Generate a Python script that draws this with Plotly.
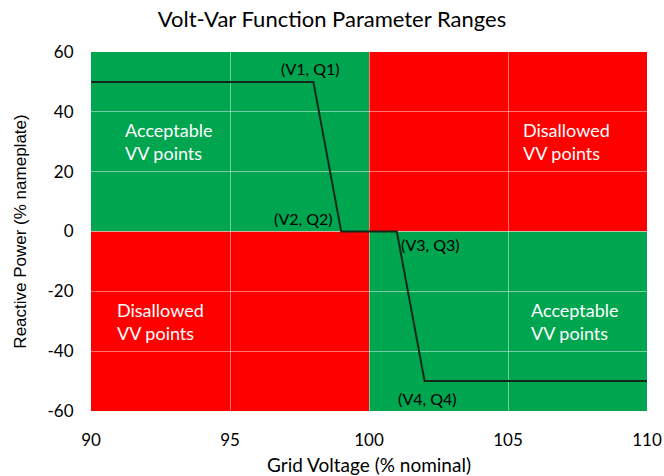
import plotly.graph_objects as go

# Volt-Var curve points
volt = [90, 98, 99, 101, 102, 110]
var = [50, 50, 0, 0, -50, -50]

# Quadrant regions: x0, x1, y0, y1, color
quad_x0 = [90, 100, 90, 100]
quad_x1 = [100, 110, 100, 110]
quad_y0 = [0, 0, -60, -60]
quad_y1 = [60, 60, 0, 0]
quad_color = ["#00A550", "#FF0000", "#FF0000", "#00A550"]

# Region labels
region_text = ["Acceptable<br>VV points", "Disallowed<br>VV points",
               "Disallowed<br>VV points", "Acceptable<br>VV points"]
region_x = [92.8, 107.1, 92.5, 107.4]
region_y = [30, 30, -30, -30]

# Point labels
pt_text = ["(V1, Q1)", "(V2, Q2)", "(V3, Q3)", "(V4, Q4)"]
pt_x = [97.9, 97.65, 102.2, 102.1]
pt_y = [54.6, 4.4, -4.4, -55.7]

FONT = "Lato, 'Open Sans', sans-serif"

fig = go.Figure()
fig.add_trace(go.Scatter(x=volt, y=var, mode="lines",
                         line=dict(color="#15291a", width=2), hoverinfo="skip"))

for x0, x1, y0, y1, c in zip(quad_x0, quad_x1, quad_y0, quad_y1, quad_color):
    fig.add_shape(type="rect", x0=x0, x1=x1, y0=y0, y1=y1, xref="x", yref="y",
                  fillcolor=c, line=dict(width=0), layer="below")

for t, x, y in zip(region_text, region_x, region_y):
    fig.add_annotation(x=x, y=y, text=t, showarrow=False, align="left",
                       font=dict(family=FONT, size=18, color="white"))

for t, x, y in zip(pt_text, pt_x, pt_y):
    fig.add_annotation(x=x, y=y, text=t, showarrow=False,
                       font=dict(family=FONT, size=16, color="black"))

fig.update_layout(
    width=664, height=476,
    margin=dict(l=91, r=17, t=52, b=65),
    paper_bgcolor="white", plot_bgcolor="white",
    showlegend=False,
    title=dict(text="Volt-Var Function Parameter Ranges", x=0.5, xanchor="center",
               y=0.96, yanchor="middle",
               font=dict(family=FONT, size=22, color="black")),
    font=dict(family=FONT, size=17, color="black"),
)
fig.update_xaxes(range=[90, 110], tickvals=[90, 95, 100, 105, 110],
                 showgrid=True, gridcolor="rgba(255,255,255,0.45)", gridwidth=1,
                 zeroline=False, showline=False, ticks="outside", ticklen=14,
                 tickcolor="rgba(0,0,0,0)", automargin=False,
                 title=dict(text="Grid Voltage (% nominal)", standoff=10,
                            font=dict(family=FONT, size=19)),
                 tickfont=dict(family=FONT, size=17))
fig.update_yaxes(range=[-60, 60], tickvals=[-60, -40, -20, 0, 20, 40, 60],
                 ticktext=["-60", "-40", "-20", "0", "20", "40", "60"],
                 showgrid=True, gridcolor="rgba(255,255,255,0.45)", gridwidth=1,
                 zeroline=False, showline=False, ticks="outside", ticklen=13,
                 tickcolor="rgba(0,0,0,0)", automargin=False,
                 title=dict(text="Reactive Power (% nameplate)", standoff=16,
                            font=dict(family="'Liberation Sans', Arial, sans-serif", size=17)),
                 tickfont=dict(family=FONT, size=17))

# remove the page's default body margin so the figure fills the window exactly
fig.write_html("out.html", config={"displayModeBar": False},
               post_script="document.body.style.margin='0';document.body.style.overflow='hidden';")
